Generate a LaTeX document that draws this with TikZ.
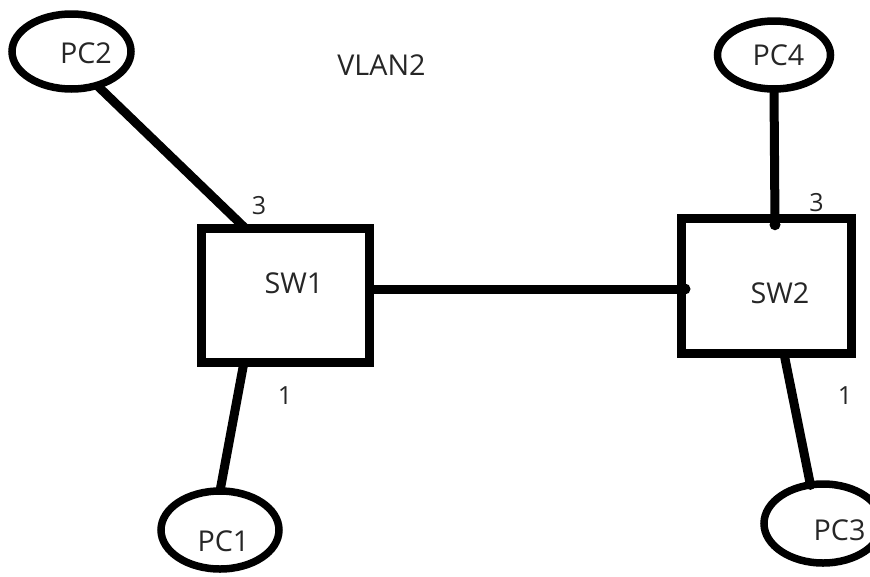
\documentclass[tikz,border=0pt]{standalone}
\usepackage{fontspec}
\setmainfont{Open Sans}
\usetikzlibrary{shapes.geometric}

\begin{document}
\begin{tikzpicture}[x=1pt, y=-1pt,
      pc/.style={draw, ellipse, line width=7.5pt, inner sep=0pt, outer sep=0pt},
      sw/.style={draw, rectangle, line width=9pt, inner sep=0pt, outer sep=0pt},
      txt/.style={font=\fontsize{28.7}{34}\selectfont, text=black!85, inner sep=0pt},
      portno/.style={font=\fontsize{25}{30}\selectfont, text=black!85, inner sep=0pt},
      link/.style={line width=9pt}
  ]
    \useasboundingbox (0,0) rectangle (870,576);
    \node[pc, minimum width=119pt, minimum height=75pt,
          label={[txt, xshift=14.5pt, yshift=-1.5pt]center:PC2}] (pc2) at (71.5,51.5) {};
    \node[pc, minimum width=113pt, minimum height=68pt,
          label={[txt, xshift=4.5pt]center:PC4}] (pc4) at (774,55) {};
    \node[pc, minimum width=118pt, minimum height=78pt,
          label={[txt, xshift=3.5pt, yshift=-11pt]center:PC1}] (pc1) at (220,530) {};
    \node[pc, minimum width=118pt, minimum height=79pt,
          label={[txt, xshift=16.5pt, yshift=-6.5pt]center:PC3}] (pc3) at (823,523.5) {};
    \node[sw, minimum width=168pt, minimum height=134pt,
          label={[txt, xshift=8.5pt, yshift=12pt]center:SW1}] (sw1) at (285.5,295) {};
    \node[sw, minimum width=170pt, minimum height=135.5pt,
          label={[txt, xshift=14pt, yshift=-7pt]center:SW2}] (sw2) at (766,286) {};
    \node[txt] (vlan) at (381.5,65.5) {VLAN2};
    % ports
    \coordinate (sw1p3) at ([xshift=-40.5pt]sw1.north);
    \coordinate (sw1p1) at ([xshift=-41.5pt]sw1.south);
    \coordinate (sw2p3) at ([xshift=9pt, yshift=-6.5pt]sw2.north);
    \coordinate (sw2p1) at ([xshift=18pt]sw2.south);
    \coordinate (sw2p2) at ([xshift=4pt, yshift=-3pt]sw2.west);
    \node[portno] (no3a) at (259,206) {3};
    \node[portno] (no1a) at (285,396) {1};
    \node[portno] (no3b) at (816.5,202.5) {3};
    \node[portno] (no1b) at (845,396) {1};
    \draw[link] (pc2.-53) -- (sw1p3);
    \draw[link] (pc1.north) -- (sw1p1);
    \draw[link] (sw1.east |- sw2p2) -- (sw2p2);
    \draw[link] (pc4.south) -- (sw2p3);
    \draw[link] (pc3.108) -- (sw2p1);
    \fill (sw2p2) circle (5.5pt);
    \fill (sw2p3) circle (5.5pt);
    \fill (pc3.108) circle (5pt);
  \end{tikzpicture}
\end{document}
